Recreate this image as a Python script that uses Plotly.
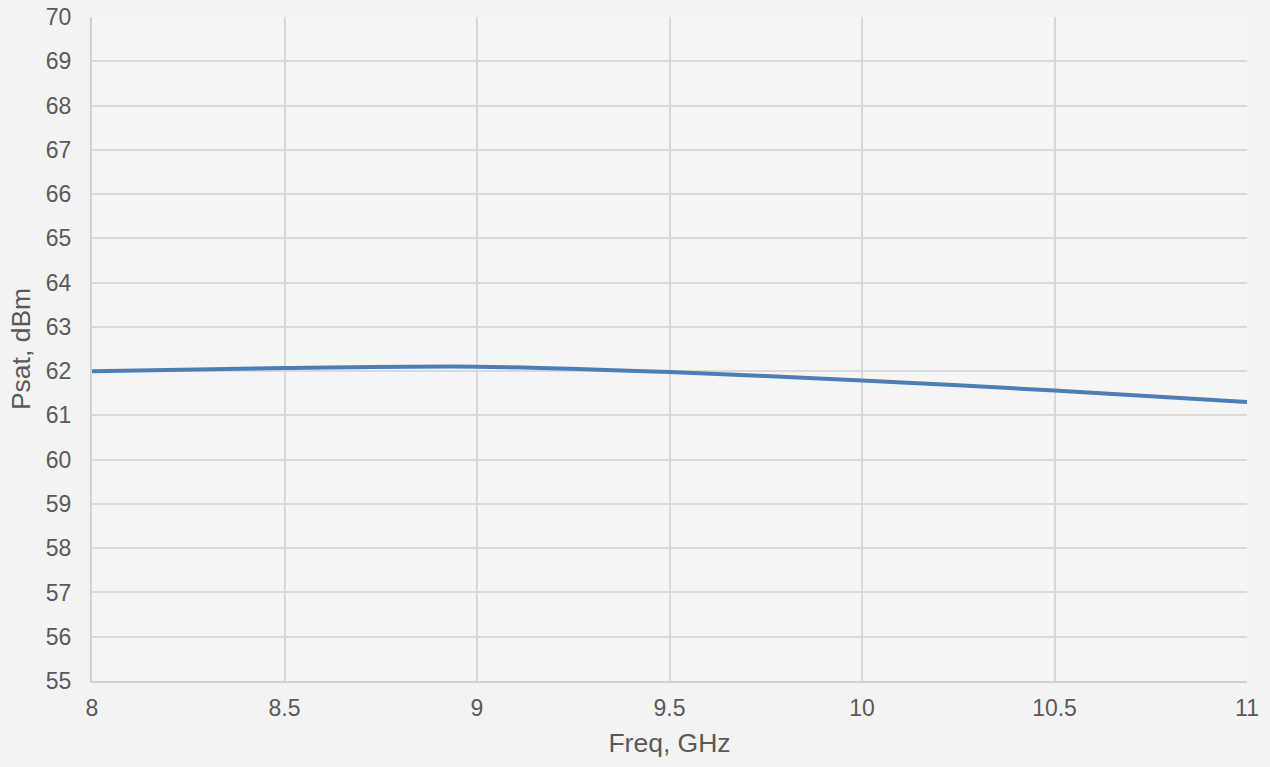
import plotly.graph_objects as go

freq_ghz = [8.0, 8.5, 9.0, 9.5, 10.0, 10.5, 11.0]
psat_dbm = [62.0, 62.07, 62.1, 61.98, 61.79, 61.56, 61.3]

x_ticks = [8, 8.5, 9, 9.5, 10, 10.5, 11]
y_ticks = list(range(55, 71))

fig = go.Figure()
fig.add_trace(go.Scatter(
    x=freq_ghz, y=psat_dbm, mode="lines",
    line=dict(color="#4a7ebb", width=4, shape="spline", smoothing=0.8),
    showlegend=False, hoverinfo="x+y",
))

font_family = "Liberation Sans, Arial, sans-serif"
fig.update_layout(
    width=1270, height=767,
    margin=dict(l=92, r=23, t=17, b=86, autoexpand=False),
    paper_bgcolor="#f3f3f3",
    plot_bgcolor="#f5f5f5",
    font=dict(family=font_family, color="#595959", size=23),
    xaxis=dict(
        range=[8, 11], tickvals=x_ticks, ticktext=[str(v) for v in x_ticks],
        showgrid=True, gridcolor="#d9d9d9", gridwidth=1.5,
        showline=True, linecolor="#d0d0d0", linewidth=2,
        zeroline=False, ticks="", ticklen=0, ticklabelstandoff=5,
        automargin=False,
        tickfont=dict(size=23, color="#595959"),
        title=dict(text="Freq, GHz", font=dict(size=26.5, color="#595959"), standoff=14),
    ),
    yaxis=dict(
        range=[55, 70], tickvals=y_ticks, ticktext=[str(v) for v in y_ticks],
        showgrid=True, gridcolor="#d9d9d9", gridwidth=1.5,
        showline=True, linecolor="#d0d0d0", linewidth=2,
        zeroline=False, ticks="", ticklen=0, ticklabelstandoff=14,
        automargin=False,
        tickfont=dict(size=23, color="#595959"),
        title=dict(text="Psat, dBm", font=dict(size=26.5, color="#595959"), standoff=8),
    ),
)

fig.write_html(
    "out.html",
    config={"displayModeBar": False},
    post_script="document.body.style.margin='0';document.body.style.padding='0';"
                "document.body.style.overflow='hidden';"
                "document.body.style.background='#f3f3f3';",
)
